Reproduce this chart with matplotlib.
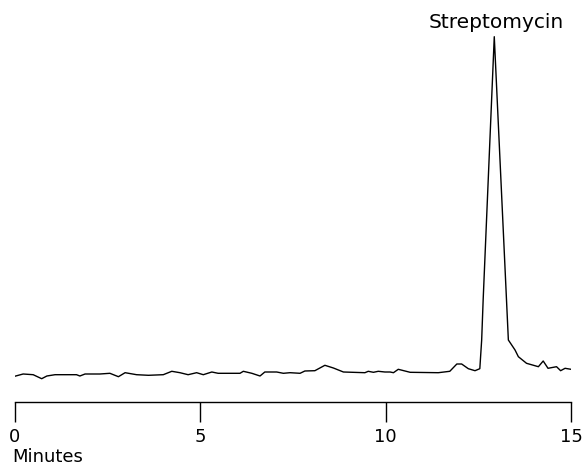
import numpy as np
import matplotlib
matplotlib.use('Agg')
import matplotlib.pyplot as plt

plt.rcParams['font.family'] = ['DejaVu Sans']

# chromatogram trace (minutes, detector signal, arbitrary units)
minutes = [-0.05, 0.22, 0.49, 0.72, 0.86, 1.08, 1.66, 1.75, 1.89, 2.29, 2.56, 2.79,
           2.97, 3.28, 3.60, 4.00, 4.23, 4.45, 4.67, 4.90, 5.08, 5.31, 5.48, 6.07,
           6.16, 6.39, 6.61, 6.74, 7.06, 7.24, 7.42, 7.69, 7.82, 8.09, 8.36, 8.59,
           8.86, 9.44, 9.53, 9.67, 9.80, 9.98, 10.12, 10.21, 10.34, 10.66, 11.42,
           11.73, 11.92, 12.05, 12.23, 12.41, 12.54, 12.59, 12.63, 12.93, 13.26,
           13.31, 13.40, 13.49, 13.58, 13.80, 14.12, 14.25, 14.38, 14.61, 14.72,
           14.84, 15.00]
signal = [-0.7, 2.0, 1.3, -2.7, 0.0, 1.3, 1.3, 0.0, 2.0, 2.0, 2.7, -0.7,
          3.3, 1.3, 0.7, 1.3, 4.7, 3.3, 1.3, 3.3, 1.3, 4.0, 2.7, 2.7,
          4.7, 2.7, 0.0, 4.0, 4.0, 2.7, 3.3, 2.7, 5.0, 5.3, 10.7, 8.0,
          4.0, 3.3, 4.7, 3.7, 4.7, 4.0, 4.0, 3.3, 6.7, 3.7, 3.3,
          4.7, 12.0, 12.0, 7.3, 5.3, 7.3, 36.0, 76.0, 339.3, 76.0,
          36.0, 31.0, 26.0, 19.3, 12.7, 9.3, 15.0, 7.7, 9.3, 5.3,
          7.7, 6.7]

peak_name = 'Streptomycin'
peak_time = 12.93
peak_signal = 339.3

x_ticks = [0, 5, 10, 15]

fig = plt.figure(figsize=(5.85, 4.67), dpi=100)
ax = fig.add_axes([15 / 585, 1 - 402 / 467, 556 / 585, 402 / 467])

ax.plot(minutes, signal, color='black', linewidth=1.0)
ax.set_xlim(0, 15)
ax.set_ylim(-26, 376)

for side in ['top', 'right', 'left']:
    ax.spines[side].set_visible(False)
ax.spines['bottom'].set_linewidth(1.0)
ax.set_yticks([])
ax.set_xticks(x_ticks)
ax.set_xticklabels([str(t) for t in x_ticks])
ax.tick_params(axis='x', direction='out', length=14.4, width=1.0, pad=4.5, labelsize=13)
ax.patch.set_visible(False)

ax.annotate(peak_name, (peak_time, peak_signal), xytext=(1.5, 6.3), textcoords='offset points',
            ha='center', va='baseline', fontsize=14.5)

fig.text(12 / 585, 1 - 462 / 467, 'Minutes', ha='left', va='baseline', fontsize=13)

fig.savefig('out.png', dpi=100)
